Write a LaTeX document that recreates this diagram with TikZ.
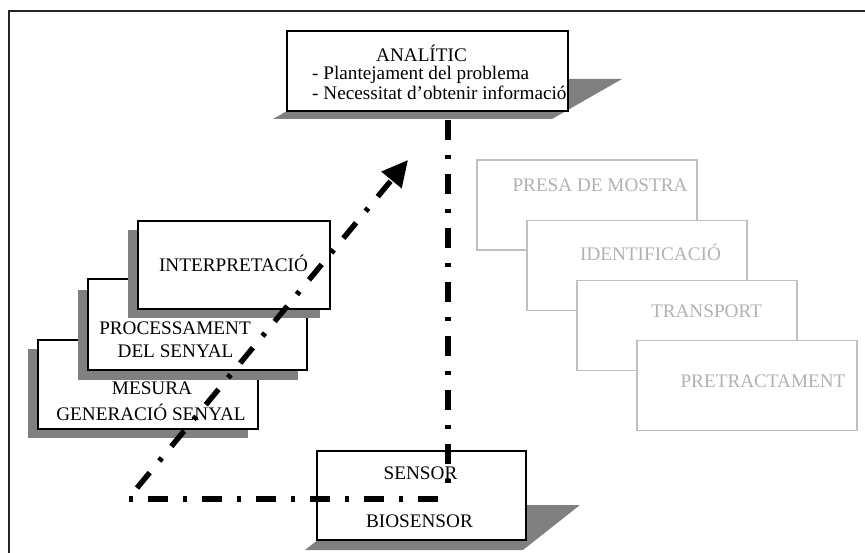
\documentclass[tikz,border=0pt]{standalone}
\usepackage{fontspec}
\setmainfont{Liberation Serif}
\usetikzlibrary{arrows.meta}
\definecolor{shadowgray}{RGB}{128,128,128}
\definecolor{lightline}{RGB}{192,192,192}
\definecolor{lighttext}{RGB}{178,178,178}
\tikzset{
  box/.style={draw=black, fill=white, line width=1.2pt, inner sep=0pt, outer sep=0pt},
  gbox/.style={draw=lightline, fill=white, line width=1.2pt, inner sep=0pt, outer sep=0pt,
    minimum width=220pt, minimum height=90pt},
  txt/.style={inner sep=0pt, anchor=base},
  gtxt/.style={inner sep=0pt, anchor=base, text=lighttext},
  ddline/.style={line width=5.4pt, draw=black, dash pattern=on 20pt off 15pt on 4pt off 15pt},
  dotfirst/.style={line width=5.4pt, draw=black, dash pattern=on 4pt off 15pt on 20pt off 15pt}
}
\begin{document}
\begin{tikzpicture}[x=1pt, y=-1pt, font=\fontsize{19.2}{22}\selectfont]
\useasboundingbox (0,0) rectangle (865,553);
% frame
\draw[line width=1.6pt, black!85] (9,553) -- (9,11) -- (865,11);

% ANALITIC
\fill[shadowgray] (273,119) -- (552,119) -- (622,79) -- (343,79) -- cycle;
\node[box, minimum width=281pt, minimum height=80pt] (anal) at (427.5,71) {};
\node[txt] (analT) at (421.5,62) {ANALÍTIC};
\node[txt, anchor=base west] (analA) at (312,80) {- Plantejament del problema};
\node[txt, anchor=base west] (analB) at (312,100) {- Necessitat d’obtenir informació};

% grey steps
\node[gbox] (presa) at (587,205) {};
\node[gtxt] (presaT) at (600,192) {PRESA DE MOSTRA};
\node[gbox] (ident) at (637,265.5) {};
\node[gtxt] (identT) at (650.5,261) {IDENTIFICACIÓ};
\node[gbox] (transp) at (687,325.5) {};
\node[gtxt] (transpT) at (706.5,318) {TRANSPORT};
\node[gbox] (pretr) at (747,385.5) {};
\node[gtxt] (pretrT) at (763,388) {PRETRACTAMENT};

% left cards
\fill[shadowgray] (28,349) rectangle (248,438);
\node[box, minimum width=220pt, minimum height=89pt] (mesura) at (148,384.5) {};
\node[txt] (mesuraA) at (152,395) {MESURA};
\node[txt] (mesuraB) at (151,420) {GENERACIÓ SENYAL};

\fill[shadowgray] (78,290) rectangle (298,380);
\node[box, minimum width=219pt, minimum height=91pt] (proc) at (197.5,324.5) {};
\node[txt] (procA) at (175,335) {PROCESSAMENT};
\node[txt] (procB) at (175.5,358) {DEL SENYAL};

\fill[shadowgray] (128,230) rectangle (320,318);
\node[box, minimum width=192pt, minimum height=88pt] (interp) at (234,265) {};
\node[txt] (interpT) at (233.5,271.5) {INTERPRETACIÓ};

% SENSOR
\fill[shadowgray] (305,550) -- (523,550) -- (580,505) -- (362,505) -- cycle;
\node[box, minimum width=209pt, minimum height=89pt] (sensor) at (421.5,495.5) {};
\node[txt] (sensorA) at (420.5,479) {SENSOR};
\node[txt] (sensorB) at (419.5,527) {BIOSENSOR};

% dash-dot connectors
\coordinate (hS) at (129,499);
\coordinate (hE) at (443,499);
\coordinate (vS) at (448,120);
\coordinate (vE) at (448,489);
\coordinate (dS) at (137,488);
\coordinate (dE) at (408,160);
\draw[dotfirst] (hS) -- (hE);
\draw[ddline] (vS) -- (vE);
\draw[ddline, -{Triangle[length=26pt, width=25pt]}] (dS) -- (dE);
\end{tikzpicture}
\end{document}
